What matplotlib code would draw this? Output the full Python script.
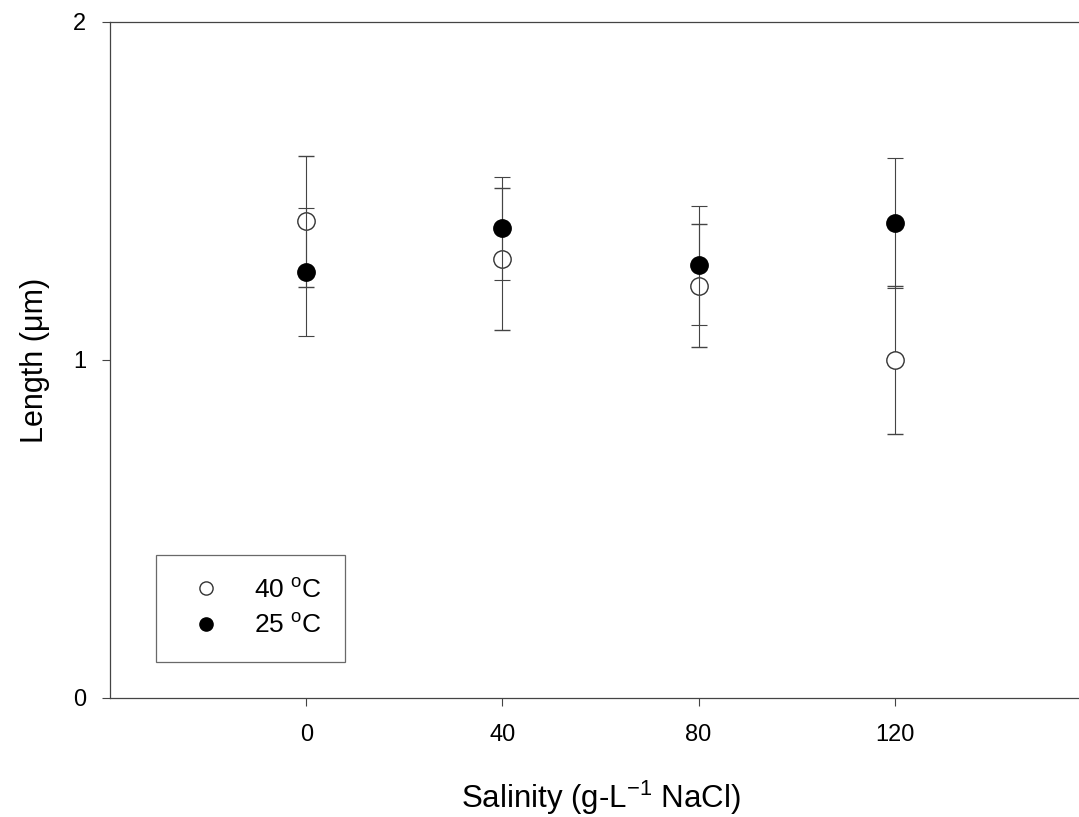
import numpy as np
import matplotlib.pyplot as plt
from matplotlib.lines import Line2D

plt.rcParams['font.family'] = ['Liberation Sans', 'DejaVu Sans']
plt.rcParams['mathtext.fontset'] = 'custom'
plt.rcParams['mathtext.rm'] = 'Liberation Sans'
plt.rcParams['mathtext.it'] = 'Liberation Sans:italic'

salinity = [0, 40, 80, 120]
len_40 = [1.41, 1.30, 1.22, 1.00]
err_40 = [0.195, 0.21, 0.183, 0.22]
len_25 = [1.26, 1.39, 1.28, 1.405]
err_25 = [0.19, 0.152, 0.176, 0.192]

fig = plt.figure(figsize=(10.79, 8.17), dpi=100)
# right edge of the frame is cut off in the original
ax = fig.add_axes([110/1079, 119/817, 981/1079, 676/817])

line_c = '#444444'
ax.errorbar(salinity, len_40, yerr=err_40, fmt='o', color=line_c, ecolor=line_c,
            elinewidth=0.8, capsize=6, capthick=0.8, mfc='white', mec='#333333',
            mew=1.0, ms=12.5, zorder=3)
ax.errorbar(salinity, len_25, yerr=err_25, fmt='o', color=line_c, ecolor=line_c,
            elinewidth=0.8, capsize=6, capthick=0.8, mfc='black', mec='black',
            ms=12.5, zorder=4)

ax.set_xlim(-40, 160)
ax.set_ylim(0, 2)
ax.set_xticks(salinity)
ax.set_yticks([0, 1, 2])
ax.tick_params(direction='out', length=6, width=0.8, colors=line_c, labelcolor='black',
               labelsize=17)
ax.tick_params(axis='x', pad=13)
ax.tick_params(axis='y', pad=11)
for s in ax.spines.values():
    s.set_color(line_c)
    s.set_linewidth(0.9)

ax.set_xlabel('Salinity (g-L$^{-1}$ NaCl)', fontsize=22.5, labelpad=23)
ax.set_ylabel('Length (μm)', fontsize=22, labelpad=17)

handles = [
    Line2D([], [], ls='none', marker='o', ms=9.5, mfc='white', mec='#333333', mew=1.0),
    Line2D([], [], ls='none', marker='o', ms=9.5, mfc='black', mec='black'),
]
labels = ['40 $^{\\mathrm{o}}$C', '25 $^{\\mathrm{o}}$C']
leg = ax.legend(handles, labels, loc='lower left', bbox_to_anchor=(46/981, 36/676),
                fontsize=19, frameon=True, fancybox=False, handlelength=2.0,
                handletextpad=0.8, borderpad=0.9, labelspacing=0.45, borderaxespad=0)
leg.get_frame().set_edgecolor(line_c)
leg.get_frame().set_linewidth(0.9)

fig.savefig('out.png', dpi=100)
